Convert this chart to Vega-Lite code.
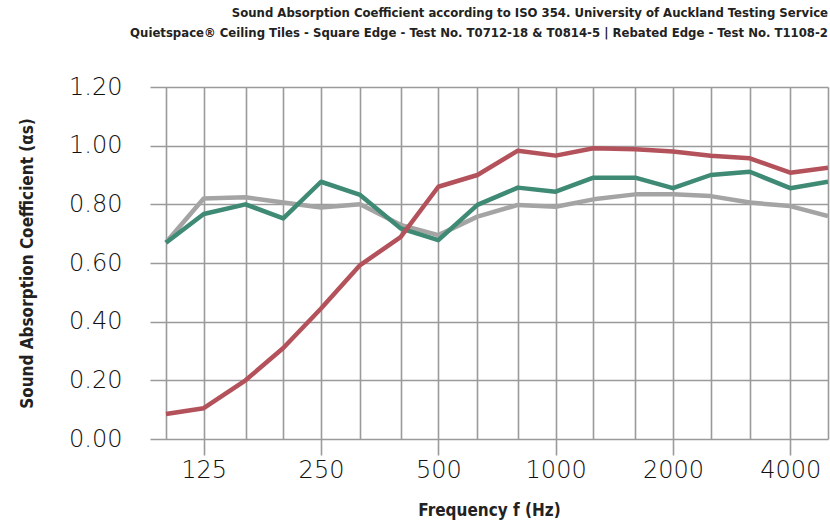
{
  "$schema": "https://vega.github.io/schema/vega-lite/v6.json",
  "width": 678,
  "height": 352,
  "autosize": {"type": "none"},
  "padding": {"left": 150, "top": 87, "right": 2, "bottom": 86},
  "background": "white",
  "title": {
    "text": ["Sound Absorption Coefficient according to ISO 354. University of Auckland Testing Service", "Quietspace® Ceiling Tiles - Square Edge - Test No. T0712-18 & T0814-5 | Rebated Edge - Test No. T1108-2"],
    "anchor": "end",
    "font": "DejaVu Sans Condensed, Liberation Sans Narrow, Roboto, sans-serif",
    "fontWeight": "bold",
    "fontSize": 13,
    "lineHeight": 20,
    "color": "#222222",
    "offset": 35
  },
  "config": {
    "view": {"stroke": null},
    "axis": {"gridColor": "#9a9a9a", "gridWidth": 1.6, "gridOpacity": 1, "domain": false}
  },
  "data": {
    "values": [
      {"f": 100, "series": "Square Edge T0712-18", "a": 0.67},
      {"f": 125, "series": "Square Edge T0712-18", "a": 0.82},
      {"f": 160, "series": "Square Edge T0712-18", "a": 0.824},
      {"f": 200, "series": "Square Edge T0712-18", "a": 0.806},
      {"f": 250, "series": "Square Edge T0712-18", "a": 0.789},
      {"f": 315, "series": "Square Edge T0712-18", "a": 0.80},
      {"f": 400, "series": "Square Edge T0712-18", "a": 0.73},
      {"f": 500, "series": "Square Edge T0712-18", "a": 0.695},
      {"f": 630, "series": "Square Edge T0712-18", "a": 0.758},
      {"f": 800, "series": "Square Edge T0712-18", "a": 0.798},
      {"f": 1000, "series": "Square Edge T0712-18", "a": 0.792},
      {"f": 1250, "series": "Square Edge T0712-18", "a": 0.817},
      {"f": 1600, "series": "Square Edge T0712-18", "a": 0.834},
      {"f": 2000, "series": "Square Edge T0712-18", "a": 0.834},
      {"f": 2500, "series": "Square Edge T0712-18", "a": 0.828},
      {"f": 3150, "series": "Square Edge T0712-18", "a": 0.806},
      {"f": 4000, "series": "Square Edge T0712-18", "a": 0.794},
      {"f": 5000, "series": "Square Edge T0712-18", "a": 0.76},
      {"f": 100, "series": "Square Edge T0814-5", "a": 0.669},
      {"f": 125, "series": "Square Edge T0814-5", "a": 0.767},
      {"f": 160, "series": "Square Edge T0814-5", "a": 0.80},
      {"f": 200, "series": "Square Edge T0814-5", "a": 0.752},
      {"f": 250, "series": "Square Edge T0814-5", "a": 0.877},
      {"f": 315, "series": "Square Edge T0814-5", "a": 0.832},
      {"f": 400, "series": "Square Edge T0814-5", "a": 0.718},
      {"f": 500, "series": "Square Edge T0814-5", "a": 0.678},
      {"f": 630, "series": "Square Edge T0814-5", "a": 0.798},
      {"f": 800, "series": "Square Edge T0814-5", "a": 0.857},
      {"f": 1000, "series": "Square Edge T0814-5", "a": 0.843},
      {"f": 1250, "series": "Square Edge T0814-5", "a": 0.891},
      {"f": 1600, "series": "Square Edge T0814-5", "a": 0.891},
      {"f": 2000, "series": "Square Edge T0814-5", "a": 0.855},
      {"f": 2500, "series": "Square Edge T0814-5", "a": 0.90},
      {"f": 3150, "series": "Square Edge T0814-5", "a": 0.911},
      {"f": 4000, "series": "Square Edge T0814-5", "a": 0.855},
      {"f": 5000, "series": "Square Edge T0814-5", "a": 0.877},
      {"f": 100, "series": "Rebated Edge T1108-2", "a": 0.085},
      {"f": 125, "series": "Rebated Edge T1108-2", "a": 0.105},
      {"f": 160, "series": "Rebated Edge T1108-2", "a": 0.20},
      {"f": 200, "series": "Rebated Edge T1108-2", "a": 0.31},
      {"f": 250, "series": "Rebated Edge T1108-2", "a": 0.445},
      {"f": 315, "series": "Rebated Edge T1108-2", "a": 0.593},
      {"f": 400, "series": "Rebated Edge T1108-2", "a": 0.688},
      {"f": 500, "series": "Rebated Edge T1108-2", "a": 0.86},
      {"f": 630, "series": "Rebated Edge T1108-2", "a": 0.90},
      {"f": 800, "series": "Rebated Edge T1108-2", "a": 0.983},
      {"f": 1000, "series": "Rebated Edge T1108-2", "a": 0.966},
      {"f": 1250, "series": "Rebated Edge T1108-2", "a": 0.991},
      {"f": 1600, "series": "Rebated Edge T1108-2", "a": 0.988},
      {"f": 2000, "series": "Rebated Edge T1108-2", "a": 0.98},
      {"f": 2500, "series": "Rebated Edge T1108-2", "a": 0.966},
      {"f": 3150, "series": "Rebated Edge T1108-2", "a": 0.957},
      {"f": 4000, "series": "Rebated Edge T1108-2", "a": 0.908},
      {"f": 5000, "series": "Rebated Edge T1108-2", "a": 0.925}
    ]
  },
  "mark": {"type": "line", "strokeWidth": 4.5, "strokeJoin": "round", "clip": true},
  "encoding": {
    "x": {
      "field": "f",
      "type": "quantitative",
      "scale": {"type": "log", "domain": [91, 5000], "nice": false},
      "axis": {
        "title": "Frequency f (Hz)",
        "titleFont": "DejaVu Sans Condensed, Liberation Sans Narrow, Roboto, sans-serif",
        "titleFontWeight": "bold",
        "titleFontSize": 17,
        "titleColor": "#222222",
        "titlePadding": 20,
        "values": [100, 125, 160, 200, 250, 315, 400, 500, 630, 800, 1000, 1250, 1600, 2000, 2500, 3150, 4000, 5000],
        "labelExpr": "indexof([125,250,500,1000,2000,4000], datum.value) >= 0 ? datum.value : ''",
        "labelFont": "DejaVu Sans",
        "labelFontWeight": 200,
        "labelFontSize": 24,
        "labelColor": "#111111",
        "labelPadding": 3,
        "labelFlush": false,
        "labelOverlap": false,
        "labelBound": false,
        "tickSize": 16,
        "tickColor": "#9a9a9a",
        "tickWidth": 1.6,
        "tickOpacity": {"condition": {"test": "indexof([125,250,500,1000,2000,4000], datum.value) >= 0", "value": 1}, "value": 0}
      }
    },
    "y": {
      "field": "a",
      "type": "quantitative",
      "scale": {"domain": [0, 1.2], "nice": false},
      "axis": {
        "title": "Sound Absorption Coefficient (αs)",
        "titleFont": "DejaVu Sans Condensed, Liberation Sans Narrow, Roboto, sans-serif",
        "titleFontWeight": "bold",
        "titleFontSize": 17,
        "titleColor": "#222222",
        "titleX": -123,
        "titleY": 176,
        "titleAngle": -90,
        "titleAlign": "center",
        "titleBaseline": "middle",
        "values": [0, 0.2, 0.4, 0.6, 0.8, 1.0, 1.2],
        "format": ".2f",
        "labelFont": "DejaVu Sans",
        "labelFontWeight": 200,
        "labelFontSize": 24,
        "labelColor": "#111111",
        "labelPadding": 28,
        "ticks": false
      }
    },
    "color": {
      "field": "series",
      "type": "nominal",
      "scale": {"domain": ["Square Edge T0712-18", "Square Edge T0814-5", "Rebated Edge T1108-2"], "range": ["#a4a4a4", "#3e8a74", "#b4525c"]},
      "legend": null
    },
    "order": {"field": "f", "type": "quantitative"}
  }
}
